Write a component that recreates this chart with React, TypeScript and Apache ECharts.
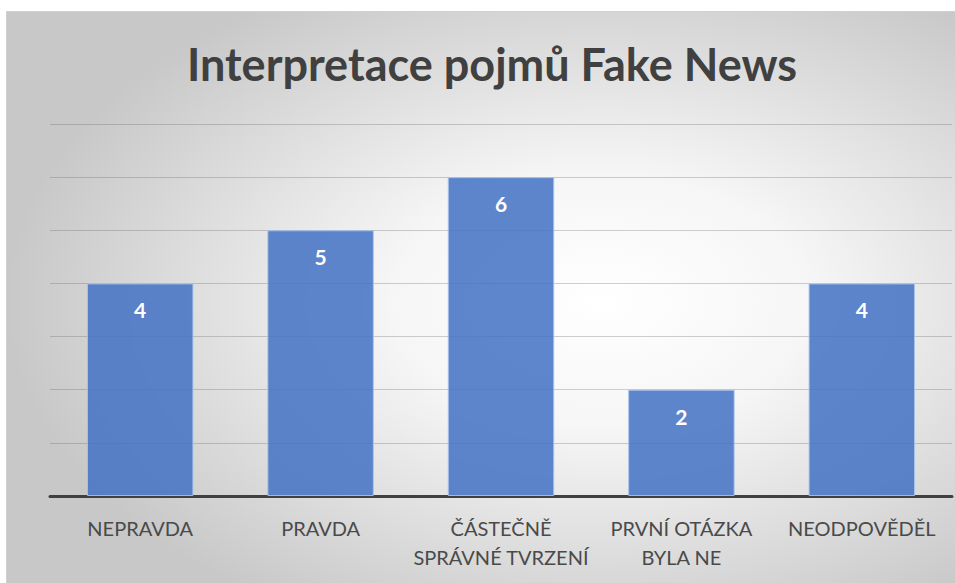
import React, { useEffect, useRef } from "react";
import * as echarts from "echarts";

const TITLE = "Interpretace pojmů Fake News";
const categories = [
  "NEPRAVDA",
  "PRAVDA",
  "ČÁSTEČNĚ\nSPRÁVNÉ TVRZENÍ",
  "PRVNÍ OTÁZKA\nBYLA NE",
  "NEODPOVĚDĚL",
];
const values = [4, 5, 6, 2, 4];
const yMax = 7;

export default function App() {
  const ref = useRef<HTMLDivElement>(null);
  useEffect(() => {
    if (!ref.current) return;
    const chart = echarts.init(ref.current, null, { renderer: "svg" });
    chart.setOption({
      animation: false,
      backgroundColor: "#ffffff",
      graphic: [
        {
          type: "rect",
          z: -10,
          silent: true,
          shape: { x: 6.5, y: 11.5, width: 960, height: 580 },
          style: {
            fill: new echarts.graphic.RadialGradient(0.62, 0.5, 0.62, [
              { offset: 0, color: "#ffffff" },
              { offset: 0.35, color: "#f6f6f6" },
              { offset: 1, color: "#c8c8c8" },
            ]),
            stroke: "#d0d0d0",
            lineWidth: 1,
          },
        },
      ],
      title: {
        text: TITLE,
        left: 487,
        textAlign: "center",
        top: 36,
        textStyle: {
          fontFamily: "Lato",
          fontWeight: "bold",
          fontSize: 45,
          color: "#404040",
        },
      },
      grid: { left: 50, right: 3, top: 124, bottom: 87 },
      xAxis: {
        type: "category",
        data: categories,
        axisLine: { lineStyle: { color: "#404040", width: 3 } },
        axisTick: { show: false },
        axisLabel: {
          interval: 0,
          margin: 17,
          fontFamily: "Lato",
          fontSize: 20,
          lineHeight: 29,
          color: "#4a4a4a",
        },
      },
      yAxis: {
        type: "value",
        min: 0,
        max: yMax,
        interval: 1,
        axisLabel: { show: false },
        axisLine: { show: false },
        axisTick: { show: false },
        splitLine: { lineStyle: { color: "rgba(100,100,100,0.3)", width: 1 } },
      },
      series: [
        {
          type: "bar",
          data: values,
          barWidth: "59%",
          itemStyle: {
            color: "rgba(68,114,196,0.86)",
            borderColor: "rgba(170,195,235,0.9)",
            borderWidth: 1,
          },
          label: {
            show: true,
            position: "insideTop",
            distance: 16,
            color: "#ffffff",
            fontFamily: "Lato",
            fontWeight: "bold",
            fontSize: 21,
          },
        },
      ],
    });
    return () => chart.dispose();
  }, []);
  return (
    <div
      ref={ref}
      style={{ position: "absolute", left: 0, top: 0, width: 955, height: 583 }}
    />
  );
}
